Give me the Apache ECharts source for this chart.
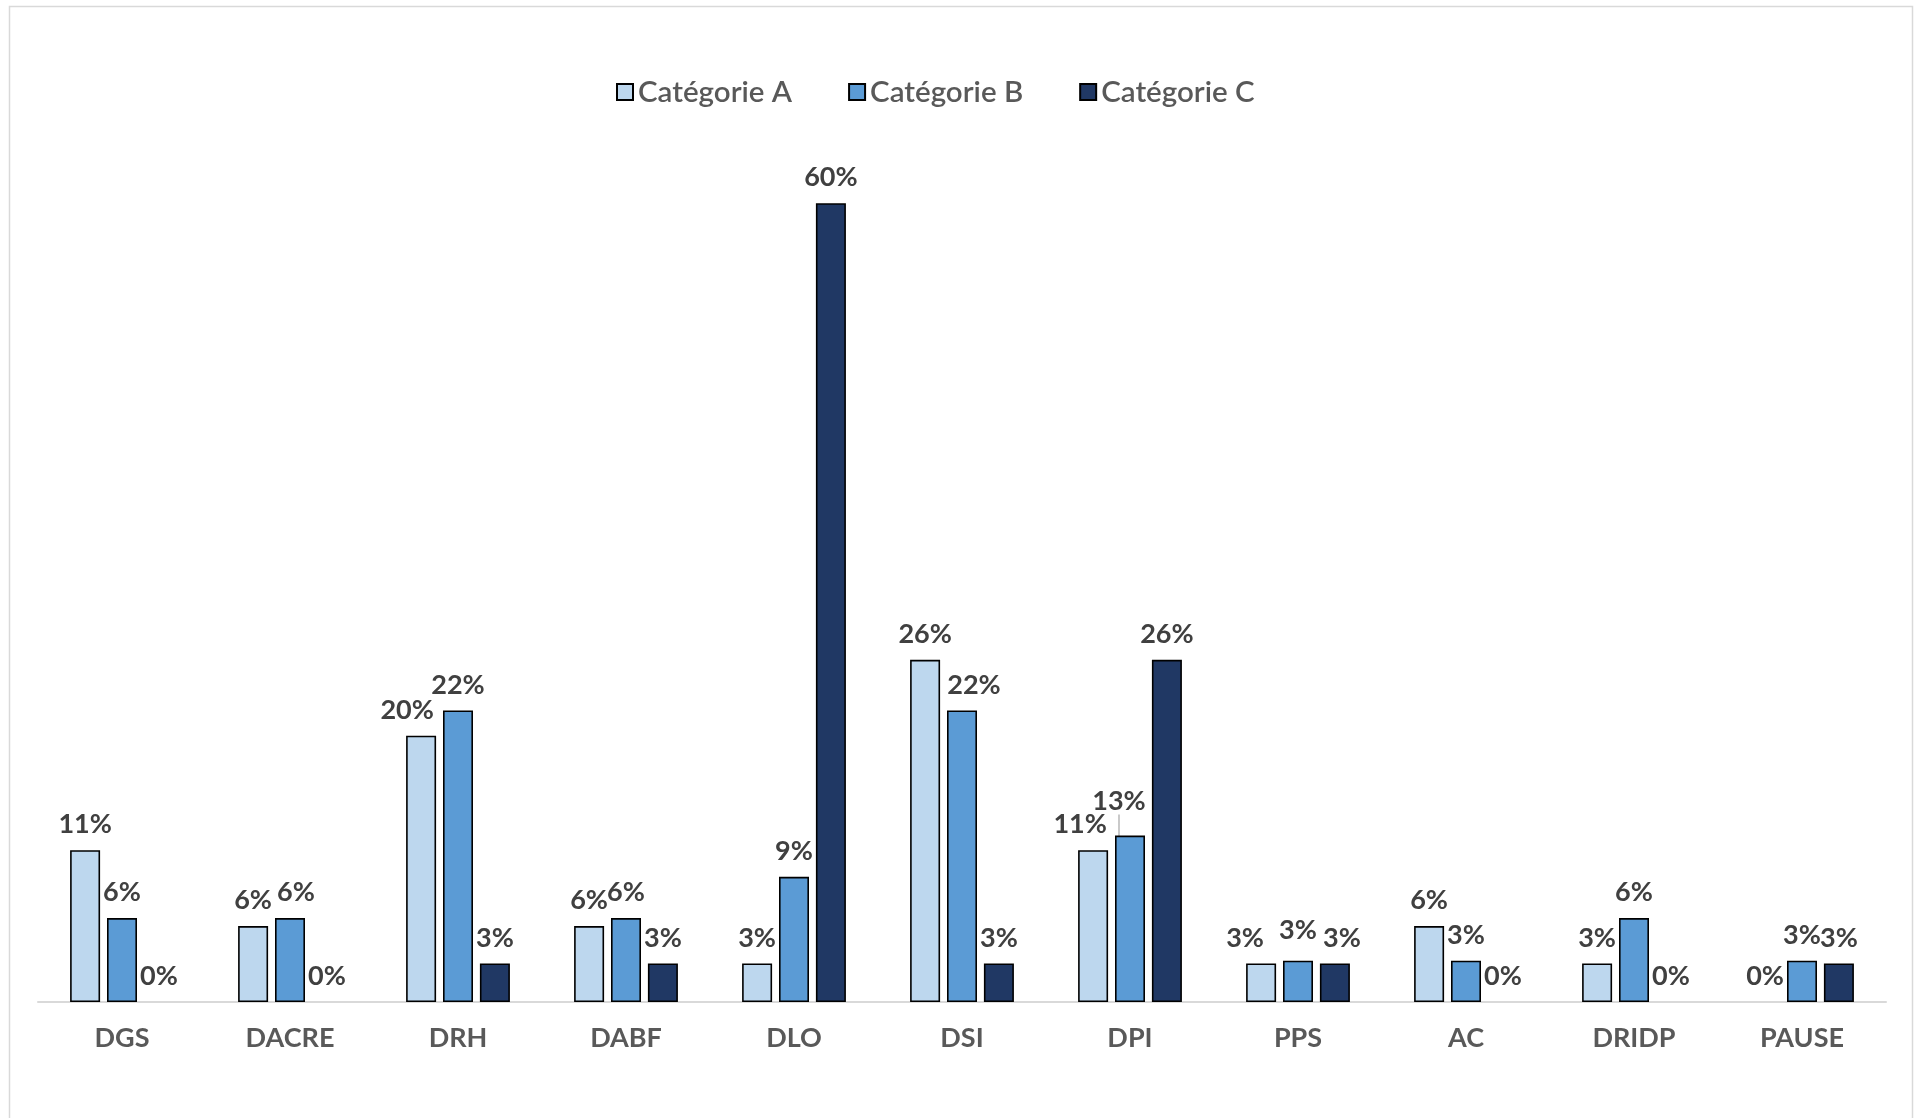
<!DOCTYPE html>
<html><head><meta charset="utf-8">
<script src="https://cdn.jsdelivr.net/npm/echarts@6/dist/echarts.min.js"></script>
<style>html,body{margin:0;padding:0;background:#fff}#c{width:1916px;height:1118px}</style>
</head><body><div id="c"></div>
<script>
const categories = ['DGS','DACRE','DRH','DABF','DLO','DSI','DPI','PPS','AC','DRIDP','PAUSE'];
const seriesNames = ['Catégorie A','Catégorie B','Catégorie C'];
const valuesA = [11.4, 5.7, 20.0, 5.7, 2.9, 25.7, 11.4, 2.9, 5.7, 2.9, 0];
const valuesB = [6.3, 6.3, 21.9, 6.3, 9.4, 21.9, 12.5, 3.1, 3.1, 6.3, 3.1];
const valuesC = [0, 0, 2.9, 2.9, 60.0, 2.9, 25.7, 2.9, 0, 0, 2.9];
const colors = ['#BDD7EE', '#5B9BD5', '#203864'];

const chart = echarts.init(document.getElementById('c'), null, {renderer:'canvas'});
const labelFont = {show:true, position:'top', distance:12, fontFamily:'Lato', fontWeight:'bold', fontSize:27, color:'#404040',
  formatter: p => Math.round(p.value) + '%'};

function items(vals, lineIdx){
  return vals.map((v, i) => {
    const o = {value: v};
    if (v === 0) o.itemStyle = {borderWidth: 0};
    if (i === lineIdx) o.labelLine = {show:true, lineStyle:{color:'#a6a6a6', width:1.2}};
    return o;
  });
}
function mk(i, vals, shifts, lineIdx){
  return {
    name: seriesNames[i], type:'bar', data: items(vals, lineIdx), barWidth: 30, barGap:'23%',
    itemStyle:{color: colors[i], borderColor:'#000', borderWidth:1.6},
    label: labelFont,
    labelLayout: p => shifts[p.dataIndex] || {},
    labelLine: {show:false},
    emphasis:{disabled:true}, animation:false
  };
}
chart.setOption({
  animation:false,
  legend:{
    data: seriesNames, left: 611, top: 72, icon:'rect', itemWidth:16, itemHeight:16, itemGap:56,
    textStyle:{fontFamily:'Lato', fontSize:29.5, color:'#595959', fontWeight:600}
  },
  grid:{left:38, right:30, top:70, bottom:116, containLabel:false},
  xAxis:{type:'category', data: categories,
    axisLine:{lineStyle:{color:'#d9d9d9', width:2}}, axisTick:{show:false},
    axisLabel:{margin:23, fontFamily:'Lato', fontWeight:'bold', fontSize:27, color:'#595959'}},
  yAxis:{type:'value', min:0, max:70, show:false, splitLine:{show:false}},
  series:[
    mk(0, valuesA, {2:{dx:-14}, 6:{dx:-13}, 7:{dx:-16}}, -1),
    mk(1, valuesB, {1:{dx:6}, 5:{dx:12}, 6:{dx:-11, dy:-9}, 7:{dy:-5}}, 6),
    mk(2, valuesC, {7:{dx:7}}, -1)
  ],
  graphic:[{type:'rect', shape:{x:9.5, y:6.5, width:1903, height:1130}, style:{fill:'none', stroke:'#d9d9d9', lineWidth:1.5}, silent:true}]
});
</script></body></html>
